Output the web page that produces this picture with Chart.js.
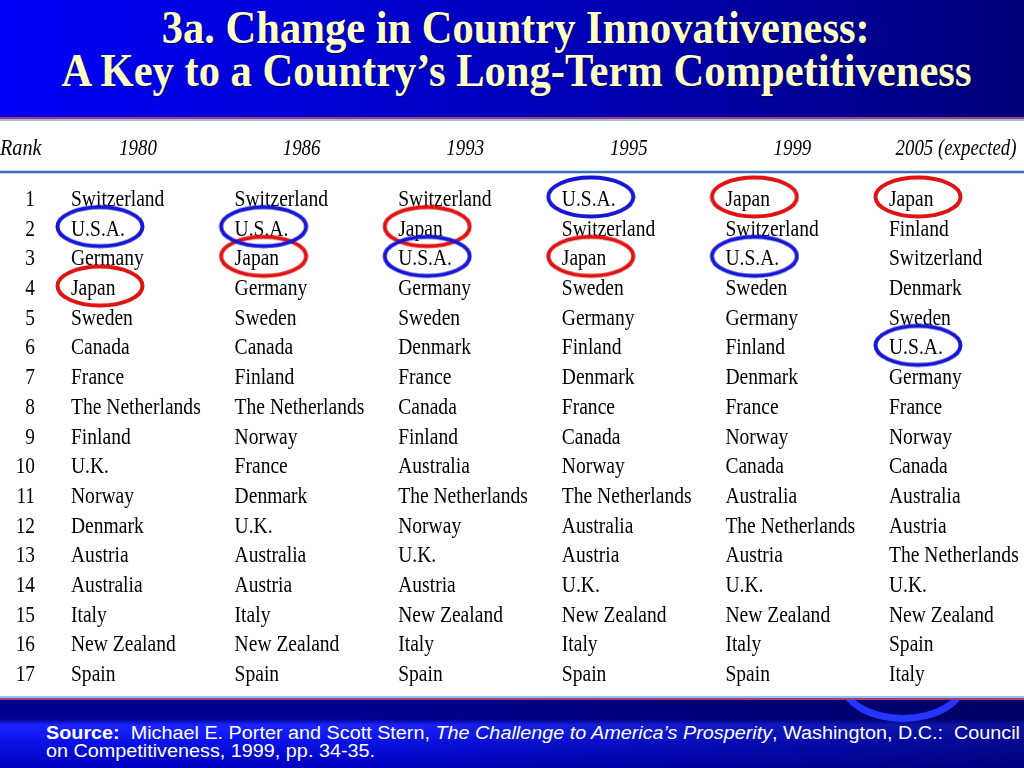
<!DOCTYPE html>
<html>
<head>
<meta charset="utf-8">
<script src="https://cdn.jsdelivr.net/npm/chart.js@4/dist/chart.umd.min.js"></script>
<style>
  body { margin:0; width:1024px; height:768px; overflow:hidden; background:#fff; position:relative; }
  #head { position:absolute; left:0; top:0; width:1024px; height:117px; background:linear-gradient(to right, #0000f8, #0000b8 55%, #00007a); }
  .bar { position:absolute; left:0; width:1024px; height:2px; }
  .title { position:absolute; left:0; width:1032px; text-align:center; font:bold 46px "Liberation Serif", serif; line-height:46px; color:#ffffc8; white-space:nowrap; text-shadow:1px 1px 1px rgba(0,0,40,0.6); }
  .title span, .src span.ln { display:inline-block; }
  #foot { position:absolute; left:0; top:700px; width:1024px; height:68px; overflow:hidden;
    background:linear-gradient(to right, rgba(0,0,60,0) 0%, rgba(0,0,60,0) 35%, rgba(0,0,70,0.55) 100%),
               linear-gradient(to bottom, #00008e 0px, #00008e 19px, #1a24ff 25px, #0a12e6 42px, #0000bc 68px); }
  #swoosh { position:absolute; left:838px; top:-62px; width:130px; height:84px; border:7px solid #2436ff; border-radius:50%; box-sizing:border-box; }
  .src { position:absolute; left:46px; font:18px "Liberation Sans", Arial, sans-serif; line-height:18px; color:#fff; white-space:nowrap; }
  .src span.ln { transform-origin:left center; }
  #grid { position:absolute; left:0; top:122px; }
</style>
</head>
<body>
<div id="head"></div>
<div class="bar" style="top:117px;background:#b03a68"></div>
<div class="bar" style="top:119px;background:#8cc4ee"></div>
<div class="title" style="top:5px"><span id="t1">3a. Change in Country Innovativeness:</span></div>
<div class="title" style="top:48px"><span id="t2">A Key to a Country’s Long-Term Competitiveness</span></div>

<canvas id="grid" width="1024" height="573"></canvas>

<div class="bar" style="top:696px;background:#8cc4ee"></div>
<div class="bar" style="top:698px;background:#b03a68"></div>
<div id="foot">
  <div id="swoosh"></div>
  <div class="src" style="top:24px"><span class="ln" id="s1"><b>Source:</b>&nbsp; Michael E. Porter and Scott Stern, <i>The Challenge to America’s Prosperity</i>, Washington, D.C.:&nbsp; Council</span></div>
  <div class="src" style="top:42px"><span class="ln" id="s2">on Competitiveness, 1999, pp. 34-35.</span></div>
</div>

<script>
const years = ['1980', '1986', '1993', '1995', '1999', '2005 (expected)'];
const ranks = [1, 2, 3, 4, 5, 6, 7, 8, 9, 10, 11, 12, 13, 14, 15, 16, 17];

const rank1980 = ['Switzerland', 'U.S.A.', 'Germany', 'Japan', 'Sweden', 'Canada', 'France', 'The Netherlands', 'Finland', 'U.K.', 'Norway', 'Denmark', 'Austria', 'Australia', 'Italy', 'New Zealand', 'Spain'];
const rank1986 = ['Switzerland', 'U.S.A.', 'Japan', 'Germany', 'Sweden', 'Canada', 'Finland', 'The Netherlands', 'Norway', 'France', 'Denmark', 'U.K.', 'Australia', 'Austria', 'Italy', 'New Zealand', 'Spain'];
const rank1993 = ['Switzerland', 'Japan', 'U.S.A.', 'Germany', 'Sweden', 'Denmark', 'France', 'Canada', 'Finland', 'Australia', 'The Netherlands', 'Norway', 'U.K.', 'Austria', 'New Zealand', 'Italy', 'Spain'];
const rank1995 = ['U.S.A.', 'Switzerland', 'Japan', 'Sweden', 'Germany', 'Finland', 'Denmark', 'France', 'Canada', 'Norway', 'The Netherlands', 'Australia', 'Austria', 'U.K.', 'New Zealand', 'Italy', 'Spain'];
const rank1999 = ['Japan', 'Switzerland', 'U.S.A.', 'Sweden', 'Germany', 'Finland', 'Denmark', 'France', 'Norway', 'Canada', 'Australia', 'The Netherlands', 'Austria', 'U.K.', 'New Zealand', 'Italy', 'Spain'];
const rank2005 = ['Japan', 'Finland', 'Switzerland', 'Denmark', 'Sweden', 'U.S.A.', 'Germany', 'France', 'Norway', 'Canada', 'Australia', 'Austria', 'The Netherlands', 'U.K.', 'New Zealand', 'Spain', 'Italy'];

const columns = [rank1980, rank1986, rank1993, rank1995, rank1999, rank2005];
const circled = ['U.S.A.', 'Japan'];

// stretch text sideways to a measured width
function fit(id, w) {
    const el = document.getElementById(id);
    const s = w / el.getBoundingClientRect().width;
    el.style.transform = 'scaleX(' + s + ')';
    return s;
}
fit('t1', 708);
fit('t2', 910);
const fs = fit('s1', 974);
document.getElementById('s2').style.transform = 'scaleX(' + fs + ')';

// oval drawn around a name, offset from the point so it wraps the text
function ring(color) {
    const c = document.createElement('canvas');
    c.width = 148;
    c.height = 66;
    const g = c.getContext('2d');
    g.strokeStyle = color;
    g.lineWidth = 4;
    g.beginPath();
    g.ellipse(74 + 29, 33 - 9, 42.5, 19.5, 0, 0, 2 * Math.PI);
    g.stroke();
    return c;
}

function marks(name) {
    return years.map((y, i) => ({ x: i, y: ranks[columns[i].indexOf(name)] }));
}

function say(ctx, str, x, y, align, sx) {
    ctx.save();
    ctx.translate(x, y);
    ctx.scale(sx, 1);
    ctx.textAlign = align;
    ctx.fillText(str, 0, 0);
    ctx.restore();
}

const tableText = {
    id: 'tableText',
    beforeDatasetsDraw(chart) {
        const ctx = chart.ctx;
        const xs = chart.scales.x, ys = chart.scales.y;
        ctx.save();
        ctx.fillStyle = '#000';
        ctx.textBaseline = 'alphabetic';

        // header row
        ctx.font = 'italic 23px "Liberation Serif"';
        const hy = ys.getPixelForValue(-0.72);
        say(ctx, 'Rank', 0, hy, 'left', 0.88);
        years.forEach((y, i) => say(ctx, y, xs.getPixelForValue(i) + 67, hy, 'center', 0.82));

        // rule under the header
        const ly = ys.getPixelForValue(-0.145);
        ctx.strokeStyle = '#3470b2';
        ctx.lineWidth = 2.5;
        ctx.beginPath();
        ctx.moveTo(0, ly);
        ctx.lineTo(chart.width, ly);
        ctx.stroke();

        // body
        ctx.font = '23px "Liberation Serif"';
        ranks.forEach((r, k) => {
            const y = ys.getPixelForValue(r);
            say(ctx, String(r), xs.getPixelForValue(0) - 36, y, 'right', 0.84);
            columns.forEach((col, i) => say(ctx, col[k], xs.getPixelForValue(i), y, 'left', 0.85));
        });
        ctx.restore();
    }
};

new Chart(document.getElementById('grid'), {
    type: 'scatter',
    data: {
        datasets: [{
            label: circled[0],
            data: marks(circled[0]),
            pointStyle: ring('#1616d4'),
            clip: false
        }, {
            label: circled[1],
            data: marks(circled[1]),
            pointStyle: ring('#e01212'),
            clip: false
        }]
    },
    options: {
        responsive: false,
        animation: false,
        events: [],
        layout: { padding: { left: 71, right: 135, top: 84, bottom: 14 } },
        plugins: { legend: { display: false }, tooltip: { enabled: false } },
        scales: {
            x: { type: 'linear', min: 0, max: 5, display: false },
            y: { type: 'linear', min: 1, max: 17, reverse: true, display: false }
        }
    },
    plugins: [tableText]
});
</script>
</body>
</html>
